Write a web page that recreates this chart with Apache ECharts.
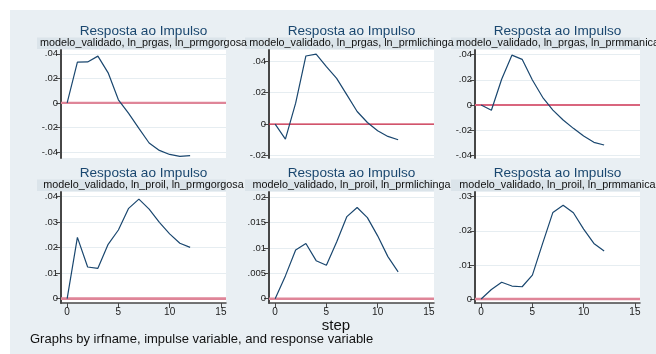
<!DOCTYPE html>
<html>
<head>
<meta charset="utf-8">
<script src="https://cdn.jsdelivr.net/npm/echarts@6/dist/echarts.min.js"></script>
<style>
  html, body { margin: 0; padding: 0; background: #ffffff; }
  #chart { width: 656px; height: 354px; }
</style>
</head>
<body>
<div id="chart"></div>
<script>
// Impulse-response steps and responses (one array per impulse/response pair)
const steps = [0, 1, 2, 3, 4, 5, 6, 7, 8, 9, 10, 11, 12];
const gasGorgosa  = [0, 0.0332, 0.0334, 0.0381, 0.0245, 0.0025, -0.0085, -0.0208, -0.0327, -0.0387, -0.0420, -0.0436, -0.0429];
const gasLichinga = [0, -0.0095, 0.0133, 0.0432, 0.0444, 0.0364, 0.0290, 0.0185, 0.0080, 0.0010, -0.0042, -0.0078, -0.0099];
const gasManica   = [0, -0.0042, 0.0204, 0.0395, 0.0362, 0.0198, 0.0061, -0.0040, -0.0119, -0.0185, -0.0246, -0.0296, -0.0317];
const oilGorgosa  = [0, 0.0240, 0.0124, 0.0119, 0.0213, 0.0269, 0.0354, 0.0390, 0.0351, 0.0299, 0.0254, 0.0217, 0.0201];
const oilLichinga = [0, 0.0045, 0.0096, 0.0109, 0.0075, 0.0066, 0.0112, 0.0162, 0.0180, 0.0160, 0.0124, 0.0083, 0.0053];
const oilManica   = [0, 0.0028, 0.0049, 0.0038, 0.0036, 0.0070, 0.0163, 0.0254, 0.0275, 0.0253, 0.0205, 0.0163, 0.0141];

// Texts
const panelTitle = 'Resposta ao Impulso';
const panelSubtitles = [
  'modelo_validado, ln_prgas, ln_prmgorgosa',
  'modelo_validado, ln_prgas, ln_prmlichinga',
  'modelo_validado, ln_prgas, ln_prmmanica',
  'modelo_validado, ln_proil, ln_prmgorgosa',
  'modelo_validado, ln_proil, ln_prmlichinga',
  'modelo_validado, ln_proil, ln_prmmanica'
];
const xAxisTitle = 'step';
const noteText = 'Graphs by irfname, impulse variable, and response variable';

// Tick values
const xTicks = [0, 5, 10, 15];
const yTicks = [
  [-0.04, -0.02, 0, 0.02, 0.04],
  [-0.02, 0, 0.02, 0.04],
  [-0.04, -0.02, 0, 0.02, 0.04],
  [0, 0.01, 0.02, 0.03, 0.04],
  [0, 0.005, 0.01, 0.015, 0.02],
  [0, 0.01, 0.02, 0.03]
];

// Reference level drawn across every panel
const zeroLevel = 0;

const seriesData = [gasGorgosa, gasLichinga, gasManica, oilGorgosa, oilLichinga, oilManica];

// Plot-region layout for the 3x2 panel grid
const colLeft = [61, 269, 475];
const plotWidth = 165;
const rowTop = [50, 192];
const rowHeight = [108, 111];
const yRange = [
  [-0.0449, 0.0431],
  [-0.0215, 0.0470],
  [-0.0420, 0.0436],
  [-0.0017, 0.0418],
  [-0.00085, 0.02105],
  [-0.00117, 0.03138]
];
const xRange = [-0.6, 15.5];

const BG = '#e9eff3';
const BAND = '#dbe4ea';
const NAVY = '#1a476f';
const AXIS = '#474747';
const FONT = '"Liberation Sans", Arial, Helvetica, sans-serif';
const zeroStyles = [
  { color: '#df8598', width: 2.2 },
  { color: '#c9203f', width: 1.2 },
  { color: '#d9657e', width: 1.8 },
  { color: '#df8598', width: 2.6 },
  { color: '#df8598', width: 2.6 },
  { color: '#df8598', width: 2.6 }
];

// Stata-style number labels: .04, -.02, 0, .005
function stataNum(v) {
  const s = String(+Number(v).toFixed(4));
  return s.replace(/^(-?)0\./, '$1.');
}

const grids = [], xAxes = [], yAxes = [], series = [], graphics = [];

graphics.push({
  type: 'rect', silent: true, z: -10,
  shape: { x: 10, y: 10, width: 646, height: 344 },
  style: { fill: BG }
});

for (let i = 0; i < 6; i++) {
  const row = Math.floor(i / 3), col = i % 3;
  const left = colLeft[col], top = rowTop[row], h = rowHeight[row];
  const cx = left + plotWidth / 2;
  const bottomRow = row === 1;

  grids.push({
    left: left, top: top, width: plotWidth, height: h,
    show: true, backgroundColor: '#ffffff', borderWidth: 0
  });

  xAxes.push({
    type: 'value', gridIndex: i, min: xRange[0], max: xRange[1],
    axisLine: { show: bottomRow, onZero: false, lineStyle: { color: AXIS, width: 1.5 } },
    axisTick: { show: bottomRow, inside: false, length: 5, customValues: xTicks, lineStyle: { color: AXIS } },
    axisLabel: { show: bottomRow, customValues: xTicks, color: '#222', fontSize: 10, fontFamily: FONT, margin: 4 },
    splitLine: { show: false }
  });

  yAxes.push({
    type: 'value', gridIndex: i, min: yRange[i][0], max: yRange[i][1],
    axisLine: { show: true, onZero: false, lineStyle: { color: AXIS, width: 2 } },
    axisTick: { show: true, length: 5, customValues: yTicks[i], lineStyle: { color: AXIS } },
    axisLabel: {
      customValues: yTicks[i], color: '#222', fontSize: 9.5, fontFamily: FONT, margin: 3,
      formatter: stataNum
    },
    splitLine: { show: true, lineStyle: { color: '#e6edf1', width: 1 } }
  });

  // Zero reference line
  series.push({
    type: 'line', xAxisIndex: i, yAxisIndex: i,
    data: [[xRange[0], zeroLevel], [xRange[1], zeroLevel]],
    showSymbol: false, symbol: 'none', silent: true,
    lineStyle: { color: zeroStyles[i].color, width: zeroStyles[i].width },
    z: 2
  });

  // Impulse response
  series.push({
    type: 'line', xAxisIndex: i, yAxisIndex: i,
    data: steps.map((s, k) => [s, seriesData[i][k]]),
    showSymbol: false, symbol: 'none', silent: true,
    lineStyle: { color: NAVY, width: 1.2 },
    z: 3
  });

  // Subtitle band and texts
  graphics.push({
    type: 'rect', silent: true, z: -5,
    shape: { x: left - 24, y: top - 12.5, width: plotWidth + 24, height: 11.5 },
    style: { fill: BAND }
  });
  graphics.push({
    type: 'text', silent: true, z: 10,
    x: cx, y: top - 18.5,
    style: { text: panelTitle, fill: NAVY, font: '13.6px ' + FONT, textAlign: 'center', textVerticalAlign: 'middle' }
  });
  graphics.push({
    type: 'text', silent: true, z: 10,
    x: cx, y: top - 6.5,
    style: { text: panelSubtitles[i], fill: '#111', font: '10.8px ' + FONT, textAlign: 'center', textVerticalAlign: 'middle' }
  });
}

graphics.push({
  type: 'text', silent: true, z: 10, x: 336, y: 326,
  style: { text: xAxisTitle, fill: '#111', font: '15px ' + FONT, textAlign: 'center', textVerticalAlign: 'middle' }
});
graphics.push({
  type: 'text', silent: true, z: 10, x: 30, y: 339.5,
  style: { text: noteText, fill: '#111', font: '13px ' + FONT, textAlign: 'left', textVerticalAlign: 'middle' }
});

const chart = echarts.init(document.getElementById('chart'), null, { renderer: 'canvas' });
chart.setOption({
  animation: false,
  backgroundColor: '#ffffff',
  grid: grids,
  xAxis: xAxes,
  yAxis: yAxes,
  series: series,
  graphic: graphics
});
</script>
</body>
</html>
